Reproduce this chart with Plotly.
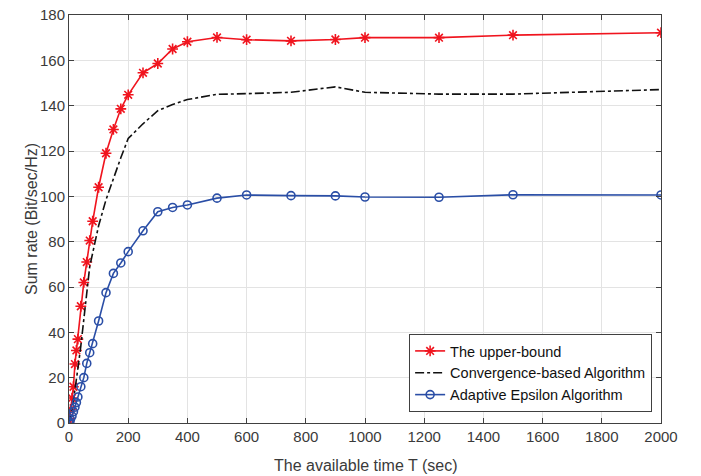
import plotly.graph_objects as go

T = [0, 2, 5, 10, 15, 20, 25, 30, 40, 50, 60, 70, 80, 100, 125, 150, 175, 200,
     250, 300, 350, 400, 500, 600, 750, 900, 1000, 1250, 1500, 2000]
upper = [0, 2, 6, 11, 16, 26, 32, 37, 51.5, 62, 71, 80.5, 89, 104, 119, 129.5, 138.6, 144.8,
         154.5, 158.6, 165, 168.2, 170.1, 169.1, 168.6, 169.2, 170, 170, 171.1, 172.2]
conv = [0, 1, 3, 6, 10, 14, 19, 24, 34, 45, 58, 69, 75, 87, 98.5, 108, 117, 125.5,
        132, 137.8, 140.5, 142.7, 145, 145.3, 145.9, 148.3, 145.9, 145.1, 145.1, 147.1]
adapt = [0, 0.5, 1.5, 3, 5, 7, 9, 11.5, 16, 20, 26.3, 31, 35, 45, 57.5, 66, 70.6, 75.6,
         84.8, 93.2, 95.1, 96.2, 99.2, 100.6, 100.3, 100.2, 99.7, 99.6, 100.7, 100.6]

names = ["The upper-bound", "Convergence-based Algorithm", "Adaptive Epsilon Algorithm"]
x_title = "The available time T (sec)"
y_title = "Sum rate (Bit/sec/Hz)"
x_ticks = list(range(0, 2001, 200))
y_ticks = list(range(0, 181, 20))

FONT = "Liberation Sans, Arial"
fig = go.Figure()
fig.add_trace(go.Scatter(x=T, y=upper, name=names[0], mode="lines+markers",
                         line=dict(color="#f0141e", width=1.6),
                         marker=dict(symbol="asterisk-open", size=9,
                                     line=dict(color="#f0141e", width=1.6))))
fig.add_trace(go.Scatter(x=T, y=conv, name=names[1], mode="lines",
                         line=dict(color="#111111", width=1.6, dash="dashdot")))
fig.add_trace(go.Scatter(x=T, y=adapt, name=names[2], mode="lines+markers",
                         line=dict(color="#2a4ea6", width=1.6),
                         marker=dict(symbol="circle-open", size=8,
                                     line=dict(color="#2a4ea6", width=1.6))))

axis_common = dict(showline=True, mirror="ticks", linecolor="#404040", linewidth=1,
                   ticks="inside", ticklen=5, tickcolor="#404040", automargin=False,
                   showgrid=True, gridcolor="#e3e3e3", gridwidth=1, zeroline=False,
                   tickfont=dict(family=FONT, size=15, color="#3a3a3a"))

fig.update_xaxes(range=[0, 2000], tickvals=x_ticks, **axis_common)
fig.update_yaxes(range=[0, 180], tickvals=y_ticks, **axis_common)

fig.add_annotation(text=x_title, xref="paper", yref="paper", x=0.5, y=0,
                   yshift=-42, xanchor="center", yanchor="middle", showarrow=False,
                   font=dict(family=FONT, size=16, color="#3a3a3a"))
fig.add_annotation(text=y_title, xref="paper", yref="paper", x=0, y=0.5,
                   xshift=-38, xanchor="center", yanchor="middle", showarrow=False,
                   textangle=-90, font=dict(family=FONT, size=16, color="#3a3a3a"))

fig.update_layout(
    width=701, height=476,
    margin=dict(l=69, r=40, t=15, b=53),
    paper_bgcolor="white", plot_bgcolor="white",
    showlegend=True,
    legend=dict(x=0.985, y=0.027, xanchor="right", yanchor="bottom",
                bgcolor="white", bordercolor="#404040", borderwidth=1,
                font=dict(family=FONT, size=14.5, color="#111111"),
                tracegroupgap=0, itemwidth=30),
)

fig.write_html("out.html")
